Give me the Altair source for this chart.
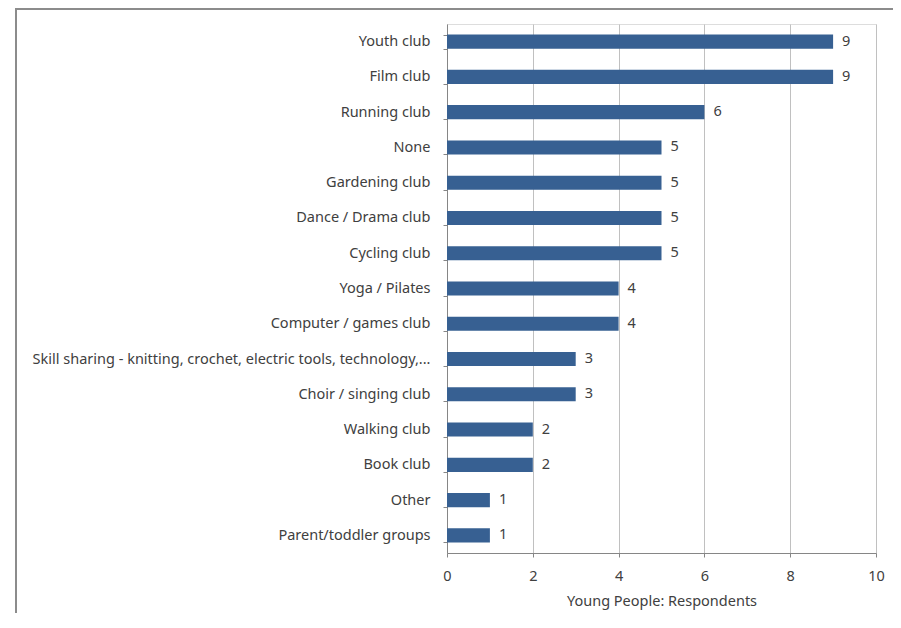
import altair as alt
import pandas as pd

categories = [
    "Youth club", "Film club", "Running club", "None", "Gardening club",
    "Dance / Drama club", "Cycling club", "Yoga / Pilates", "Computer / games club",
    "Skill sharing - knitting, crochet, electric tools, technology,...",
    "Choir / singing club", "Walking club", "Book club", "Other", "Parent/toddler groups",
]
values = [9, 9, 6, 5, 5, 5, 5, 4, 4, 3, 3, 2, 2, 1, 1]
x_ticks = [0, 2, 4, 6, 8, 10]

df = pd.DataFrame({"category": categories, "value": values})

FONT = "Noto Sans"
FS = 14.5
TXT = "#404040"

y_enc = alt.Y("category:N", sort=categories, title=None,
              scale=alt.Scale(paddingInner=0.6, paddingOuter=0.3),
              axis=alt.Axis(labelFont=FONT, labelFontSize=FS, labelColor=TXT,
                            labelPadding=13, tickSize=4, tickColor="#868686",
                            domainColor="#868686", labelLimit=600,
                            tickBand="extent", grid=False))
x_enc = alt.X("value:Q", title="Young People: Respondents",
              scale=alt.Scale(domain=[0, 10], nice=False),
              axis=alt.Axis(values=x_ticks, labelFont=FONT, labelFontSize=FS,
                            labelColor=TXT, labelPadding=12, tickSize=4,
                            labelFlush=False,
                            tickColor="#868686", domainColor="#868686",
                            gridColor="#c0c0c0", gridWidth=1,
                            titleFont=FONT, titleFontSize=FS, titleColor=TXT,
                            titleFontWeight="normal", titlePadding=12))

bars = alt.Chart(df).mark_bar(color="#376092").encode(x=x_enc, y=y_enc)
labels = alt.Chart(df).mark_text(align="left", baseline="middle", dx=9,
                                 font=FONT, fontSize=FS, color=TXT).encode(
    x="value:Q", y=alt.Y("category:N", sort=categories), text="value:Q")

# decorative chart frame (top and left edges; right/bottom lie outside the window)
frame_src = pd.DataFrame({"a": [0]})
frame_top = alt.Chart(frame_src).mark_rule(stroke="#8c8c8c", strokeWidth=2).encode(
    x=alt.value(-431), x2=alt.value(446), y=alt.value(-15), y2=alt.value(-15))
frame_left = alt.Chart(frame_src).mark_rule(stroke="#8c8c8c", strokeWidth=2).encode(
    x=alt.value(-431), x2=alt.value(-431), y=alt.value(-16), y2=alt.value(589))

chart = alt.layer(frame_top, frame_left, bars, labels).properties(
    width=429, height=529,
    autosize=alt.AutoSizeParams(type="none"),
    padding={"left": 439, "top": 16, "right": 17, "bottom": 60},
).configure_view(stroke=None).configure(background="white")

chart.save("out.html", embed_options={"renderer": "svg", "actions": False})
